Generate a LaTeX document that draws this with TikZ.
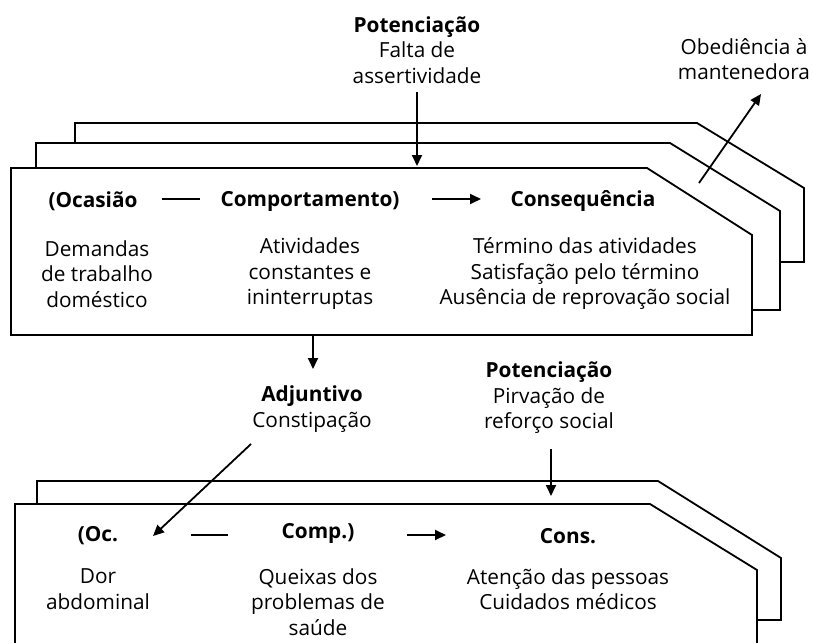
\documentclass[tikz,border=0pt]{standalone}
\usepackage{fontspec}
\setmainfont{Open Sans}
\usetikzlibrary{arrows.meta}
\tikzset{
  frame/.style={line width=1.8pt, line join=miter},
  txt/.style={align=center, inner sep=0pt, font=\fontsize{20.8}{25.5}\selectfont},
  head/.style={inner sep=0pt, font=\fontsize{20.8}{25.5}\selectfont\bfseries},
  arr/.style={line width=1.8pt, -{Triangle[length=11pt,width=10pt]}},
  bar/.style={line width=1.8pt}
}
\begin{document}
\begin{tikzpicture}[x=1pt,y=-1pt]
\useasboundingbox (0,0) rectangle (813,642);
\begin{scope}
\clip (0,0) rectangle (813,642);
% top stack
\draw[frame] (75,143) -- (75,123) -- (697,123) -- (804,188) -- (804,262) -- (780,262);
\draw[frame] (36,168) -- (36,143) -- (670,143) -- (780,211) -- (780,310) -- (752,310);
\draw[frame] (11,168) -- (647,168) -- (752,235) -- (752,335) -- (11,335) -- cycle;
% bottom stack
\draw[frame] (37,504) -- (37,481) -- (658,481) -- (781,558) -- (781,620) -- (757,620);
\draw[frame] (15,660) -- (15,504) -- (650,504) -- (757,570) -- (757,660);
\end{scope}

% top labels
\node[txt] (pot1) at (417,50) {\textbf{Potenciação}\\Falta de\\assertividade};
\coordinate (pot1s) at (417,92);
\coordinate (pot1e) at (417,166);
\draw[arr] (pot1s) -- (pot1e);

\node[txt] (obed) at (744,59) {Obediência à\\mantenedora};
\coordinate (obeds) at (699,183);
\coordinate (obede) at (761,94);
\draw[arr] (obeds) -- (obede);

% top box content
\node[head] (oca) at (93,201) {(Ocasião};
\node[head] (comp) at (310,201) {Comportamento)};
\node[head] (cons) at (583,201) {Consequência};
\draw[bar] (162,199) -- (200,199);
\coordinate (a1s) at (432,199);
\coordinate (a1e) at (481,199);
\draw[arr] (a1s) -- (a1e);
\node[txt] (ocat) at (97,274) {Demandas\\de trabalho\\doméstico};
\node[txt] (compt) at (310,274) {Atividades\\constantes e\\ininterruptas};
\node[txt] (const) at (585,274) {Término das atividades\\Satisfação pelo término\\Ausência de reprovação social};

% middle
\coordinate (adjs) at (313,336);
\coordinate (adje) at (313,369);
\draw[arr] (adjs) -- (adje);
\node[txt] (adj) at (312,409) {\textbf{Adjuntivo}\\Constipação};
\node[txt] (pot2) at (549,398) {\textbf{Potenciação}\\Pirvação de\\reforço social};
\coordinate (pot2s) at (551,449);
\coordinate (pot2e) at (551,496);
\draw[arr] (pot2s) -- (pot2e);
\coordinate (adjas) at (251,444);
\coordinate (adjae) at (153,536);
\draw[arr] (adjas) -- (adjae);

% bottom box content
\node[head] (oc) at (98,536) {(Oc.};
\node[head] (cp) at (318,533) {Comp.)};
\node[head] (cs) at (568,536) {Cons.};
\draw[bar] (191,535) -- (228,535);
\coordinate (a2s) at (407,535);
\coordinate (a2e) at (446,535);
\draw[arr] (a2s) -- (a2e);
\node[txt] (oct) at (98,589) {Dor\\abdominal};
\node[txt] (cpt) at (318,602) {Queixas dos\\problemas de\\saúde};
\node[txt] (cst) at (568,589) {Atenção das pessoas\\Cuidados médicos};
\end{tikzpicture}
\end{document}
